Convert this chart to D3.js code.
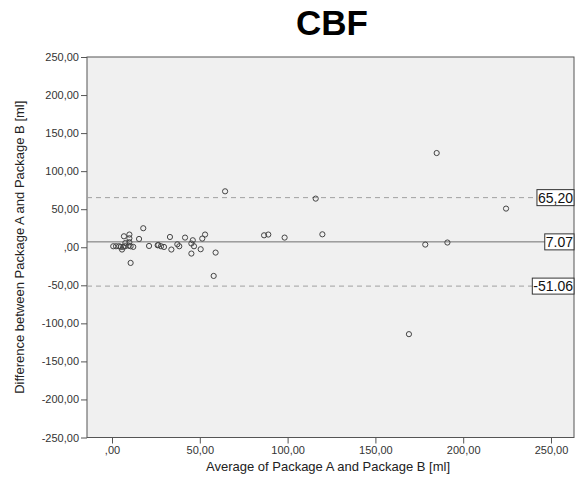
<!DOCTYPE html>
<html><head><meta charset="utf-8">
<script src="https://cdn.jsdelivr.net/npm/d3@7/dist/d3.min.js"></script>
<style>body{margin:0;background:#fff;}svg{display:block;font-family:Arial,"Liberation Sans",sans-serif;}</style>
</head><body>
<svg id="c" width="583" height="477"></svg>
<script>
const title = "CBF";
const xLabel = "Average of Package A and Package B [ml]";
const yLabel = "Difference between Package A and Package B [ml]";
const avgValues = [17.8,6.8,9.9,9.9,15.4,21.1,26,0.7,2.3,4.0,5.0,6.4,7.4,9.5,10.6,12.1,5.7,10.6,7.6,9.9,26.4,27.9,29.6,33,33.8,37.2,38.3,41.6,45.2,46,46.7,45.2,50.5,51.4,53,59,57.9,64.4,116,86.6,89,98.3,119.8,184.9,224.4,178.4,191,169.1];
const diffValues = [25,14.4,16.7,11.8,10.9,1.7,2.6,1.3,1.3,1.3,0.5,0.5,1.3,2,1.3,0.5,-3,-20.6,5.6,6.6,3,1.3,0.4,13.5,-3,3.9,1.3,12.7,4.9,9.2,1.3,-8.3,-2.6,11.4,16.7,-7,-37.7,73.5,63.9,15.7,16.7,12.7,17,123.8,50.8,3.5,6.2,-114.2];
const refValues = [65.20, 7.07, -51.06];
const refLabels = ["65,20", "7.07", "-51.06"];
const refDashed = [true, false, true];
const xTicks = [0, 50, 100, 150, 200, 250];
const xTickLabels = [",00", "50,00", "100,00", "150,00", "200,00", "250,00"];
const yTicks = [-250, -200, -150, -100, -50, 0, 50, 100, 150, 200, 250];
const yTickLabels = ["-250,00", "-200,00", "-150,00", "-100,00", "-50,00", ",00", "50,00", "100,00", "150,00", "200,00", "250,00"];

const svg = d3.select("#c");
const L = 87, R = 574, T = 57, B = 437.5;
const x = d3.scaleLinear().domain([-14.24, 263.1]).range([L, R]);
const y = d3.scaleLinear().domain([-250, 250]).range([B, T]);

svg.append("text").attr("x", 332).attr("y", 35).attr("text-anchor", "middle")
  .attr("font-size", 35).attr("font-weight", "bold").attr("fill", "#000").text(title);

svg.append("rect").attr("x", L).attr("y", T).attr("width", R - L).attr("height", B - T)
  .attr("fill", "#f0f0f0");

const xAxis = d3.axisBottom(x).tickValues(xTicks).tickSize(6).tickFormat((d, i) => xTickLabels[i]);
const gx = svg.append("g").attr("transform", `translate(0,${B})`).call(xAxis);
gx.select(".domain").remove();
gx.selectAll("line").attr("stroke", "#555");
gx.selectAll("text").attr("font-size", 11).attr("fill", "#333").attr("font-family", "Arial, sans-serif");

const yAxis = d3.axisLeft(y).tickValues(yTicks).tickSize(6).tickFormat((d, i) => yTickLabels[i]);
const gy = svg.append("g").attr("transform", `translate(${L},0)`).call(yAxis);
gy.select(".domain").remove();
gy.selectAll("line").attr("stroke", "#555");
gy.selectAll("text").attr("font-size", 11).attr("fill", "#333").attr("x", -8).attr("font-family", "Arial, sans-serif");

svg.append("rect").attr("x", L).attr("y", T).attr("width", R - L).attr("height", B - T)
  .attr("fill", "none").attr("stroke", "#555").attr("stroke-width", 1);

// reference lines
refValues.forEach((v, i) => {
  svg.append("line").attr("x1", L).attr("x2", R).attr("y1", y(v)).attr("y2", y(v))
    .attr("stroke", refDashed[i] ? "#a0a0a0" : "#707070").attr("stroke-width", 1)
    .attr("stroke-dasharray", refDashed[i] ? "5,4" : null);
});

// points
svg.append("g").selectAll("circle").data(avgValues.map((a, i) => [a, diffValues[i]])).join("circle")
  .attr("cx", d => x(d[0])).attr("cy", d => y(d[1])).attr("r", 2.6)
  .attr("fill", "none").attr("stroke", "#444").attr("stroke-width", 1);

// labels
refValues.forEach((v, i) => {
  const g = svg.append("g");
  const t = g.append("text").attr("x", R - 1).attr("y", y(v)).attr("dy", "0.36em")
    .attr("text-anchor", "end").attr("font-size", 14).attr("fill", "#111").text(refLabels[i]);
  const bb = t.node().getBBox();
  g.insert("rect", "text").attr("x", bb.x - 1).attr("y", y(v) - 8).attr("width", R - bb.x + 1).attr("height", 16)
    .attr("fill", "#fff").attr("stroke", "#333").attr("stroke-width", 1);
});

svg.append("text").attr("x", 328).attr("y", 471).attr("text-anchor", "middle")
  .attr("font-size", 13).attr("fill", "#222").text(xLabel);
svg.append("text").attr("transform", `translate(24,${(T + B) / 2}) rotate(-90)`).attr("text-anchor", "middle")
  .attr("font-size", 13).attr("fill", "#222").text(yLabel);
</script>
</body></html>
